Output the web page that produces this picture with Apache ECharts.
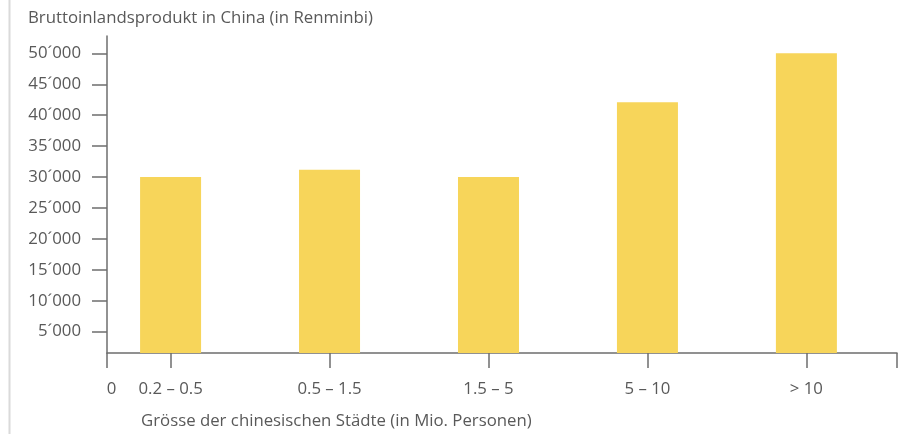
<!DOCTYPE html>
<html>
<head>
<meta charset="utf-8">
<script src="https://cdn.jsdelivr.net/npm/echarts@6/dist/echarts.min.js"></script>
<style>
  html, body { margin: 0; padding: 0; background: #fff; }
  #chart { width: 913px; height: 434px; }
</style>
</head>
<body>
<div id="chart"></div>
<script>
// Städtegrössen (Mio. Personen) und BIP pro Kopf
const cityClasses = ['0.2 – 0.5', '0.5 – 1.5', '1.5 – 5', '5 – 10', '> 10'];
const gdpValues = [30000, 31200, 30000, 42100, 50000];
const yTicks = [5000, 10000, 15000, 20000, 25000, 30000, 35000, 40000, 45000, 50000];

const chart = echarts.init(document.getElementById('chart'));

const FONT = 'Open Sans';
const FS = 16.8;
const TEXT = '#595959';
const AXIS = '#6e6e6e';
const X_MIN = -0.4;
const X_MAX = 4.57;

const option = {
  animation: false,
  textStyle: { fontFamily: FONT },
  title: [
    {
      text: 'Bruttoinlandsprodukt in China (in Renminbi)',
      left: 28, top: 10, padding: 0,
      textStyle: { fontFamily: FONT, fontSize: FS, fontWeight: 'normal', color: TEXT }
    },
    {
      text: 'Grösse der chinesischen Städte (in Mio. Personen)',
      left: 141, top: 413, padding: 0,
      textStyle: { fontFamily: FONT, fontSize: FS, fontWeight: 'normal', color: TEXT }
    }
  ],
  graphic: [
    { // grauer Rand links
      type: 'line',
      shape: { x1: 9.5, y1: 0, x2: 9.5, y2: 434 },
      style: { stroke: '#dadada', lineWidth: 2 }
    }
  ],
  grid: { left: 107, right: 16, top: 36, bottom: 81 },
  xAxis: {
    type: 'value',
    min: X_MIN,
    max: X_MAX,
    splitLine: { show: false },
    axisLine: { show: true, onZero: false, lineStyle: { color: AXIS, width: 1.5 } },
    axisTick: {
      show: true, length: 15,
      customValues: [X_MIN, 0, 1, 2, 3, 4, X_MAX],
      lineStyle: { color: AXIS, width: 1.5 }
    },
    axisLabel: {
      margin: 28,
      fontSize: FS,
      color: TEXT,
      customValues: [X_MIN, 0, 1, 2, 3, 4],
      formatter: v => v < 0 ? '{z|0}' : cityClasses[Math.round(v)],
      rich: { z: { fontSize: FS, color: TEXT, padding: [0, 0, 0, 9] } }
    }
  },
  yAxis: {
    type: 'value',
    min: 1560,
    max: 52800,
    splitLine: { show: false },
    axisLine: { show: true, onZero: false, lineStyle: { color: AXIS, width: 1.5 } },
    axisTick: {
      show: true, length: 15,
      customValues: yTicks,
      lineStyle: { color: AXIS, width: 1.5 }
    },
    axisLabel: {
      margin: 26,
      fontSize: FS,
      color: TEXT,
      customValues: yTicks,
      formatter: v => (v / 1000) + '´000'
    }
  },
  series: [
    {
      type: 'bar',
      barWidth: 61,
      itemStyle: { color: '#f7d55a' },
      data: gdpValues.map((v, i) => [i, v])
    }
  ]
};

chart.setOption(option);
</script>
</body>
</html>
